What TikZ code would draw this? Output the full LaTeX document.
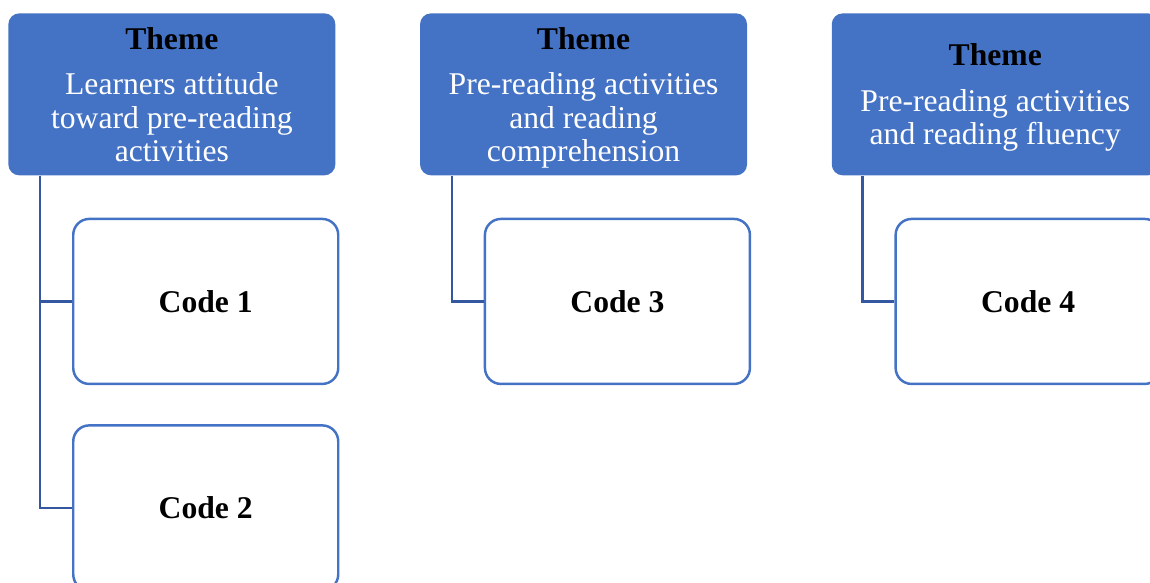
\documentclass[tikz,border=0pt]{standalone}
\usepackage{fontspec}
\setmainfont{Liberation Serif}
\usepackage{xcolor}
\usepackage{tikz}
\usetikzlibrary{positioning, calc}
\definecolor{themeblue}{RGB}{68, 114, 196}
\definecolor{linkblue}{RGB}{52, 88, 160}

\begin{document}
\begin{tikzpicture}[
    font=\fontsize{18}{19}\selectfont,
    theme/.style={rectangle, rounded corners=0.22cm, fill=themeblue, text=white,
        minimum width=6.54cm, minimum height=3.24cm, align=center, inner sep=0pt, text depth=0pt},
    code/.style={rectangle, rounded corners=0.32cm, draw=themeblue, line width=1.4pt,
        fill=white, minimum width=5.3cm, minimum height=3.3cm, font=\fontsize{18}{19}\selectfont\bfseries},
    link/.style={draw=linkblue, line width=1.3pt}
]
\useasboundingbox (0,0) rectangle (23,-11.66);
% themes
\node[theme, anchor=north west] (theme1) at (0.16,-0.26)
    {\textcolor{black}{\bfseries Theme}\\[7pt]Learners attitude\\toward pre-reading\\activities};
\node[theme, right=1.68cm of theme1] (theme2)
    {\textcolor{black}{\bfseries Theme}\\[7pt]Pre-reading activities\\and reading\\comprehension};
\node[theme, right=1.68cm of theme2] (theme3)
    {\textcolor{black}{\bfseries Theme}\\[7pt]Pre-reading activities\\and reading fluency};
% codes
\node[code, below right=0.84cm and 1.28cm of theme1.south west, anchor=north west] (code1) {Code 1};
\node[code, below=0.78cm of code1] (code2) {Code 2};
\node[code, below right=0.84cm and 1.28cm of theme2.south west, anchor=north west] (code3) {Code 3};
\node[code, below right=0.84cm and 1.26cm of theme3.south west, anchor=north west] (code4) {Code 4};
% links
\draw[link] ([xshift=0.64cm]theme1.south west) |- (code1.west);
\draw[link] ([xshift=0.64cm]theme1.south west) |- (code2.west);
\draw[link] ([xshift=0.64cm]theme2.south west) |- (code3.west);
\draw[link] ([xshift=0.62cm]theme3.south west) |- (code4.west);
\end{tikzpicture}
\end{document}
